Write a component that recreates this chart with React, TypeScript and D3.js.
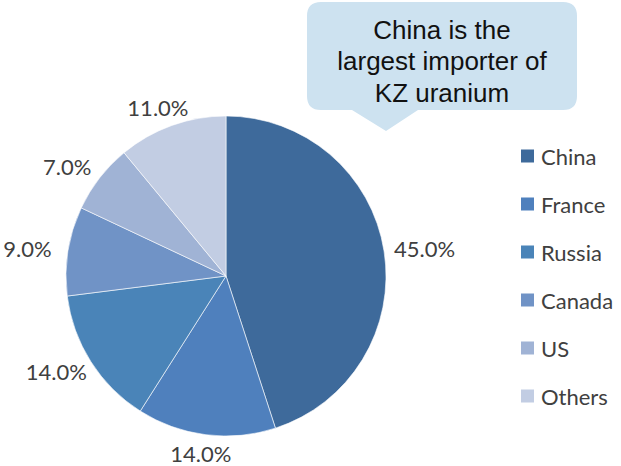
import React from "react";
import * as d3 from "d3";

const categories = ["China", "France", "Russia", "Canada", "US", "Others"];
const shares = [45, 14, 14, 9, 7, 11];
const colors = ["#3e6a9b", "#4f80bd", "#4a84b8", "#7093c6", "#a0b3d5", "#c2cde3"];
const calloutLines = ["China is the", "largest importer of", "KZ uranium"];

const W = 621;
const H = 466;
const cx = 226;
const cy = 276;
const R = 160;
const labelFont = "Lato, 'Open Sans', sans-serif";

export default function App() {
  const pie = d3.pie<number>().value((d) => d).sort(null);
  const arcs = pie(shares);
  const arc = d3.arc<d3.PieArcDatum<number>>().innerRadius(0).outerRadius(R);
  const fmt = d3.format(".1f");

  const legendY = d3.scalePoint<string>().domain(categories).range([156, 396]);

  return (
    <svg width={W} height={H} style={{ position: "absolute", left: 0, top: 0 }}>
      <g transform={`translate(${cx},${cy})`}>
        {arcs.map((a, i) => (
          <path key={i} d={arc(a) || ""} fill={colors[i]} stroke="#ffffff" strokeWidth={0.6} />
        ))}
        {arcs.map((a, i) => {
          const mid = (a.startAngle + a.endAngle) / 2;
          const dx = Math.sin(mid);
          const dy = -Math.cos(mid);
          const rr = R + 9;
          const bw = 64;
          const bh = 20;
          const x = dx * rr + dx * bw / 2;
          const y = dy * rr + dy * bh / 2;
          return (
            <text
              key={"l" + i}
              x={x}
              y={y}
              textAnchor="middle"
              dominantBaseline="central"
              fontFamily={labelFont}
              fontSize={22}
              fill="#404040"
            >
              {fmt(shares[i])}%
            </text>
          );
        })}
      </g>
      <g>
        <path
          d="M321,2 H563 Q577,2 577,16 V96 Q577,110 563,110 H418 L386,131 L352,110 H321 Q307,110 307,96 V16 Q307,2 321,2 Z"
          fill="#cde2f0"
        />
        {calloutLines.map((t, i) => (
          <text
            key={i}
            x={442}
            y={29.5 + i * 31.5}
            textAnchor="middle"
            dominantBaseline="central"
            fontFamily="'Liberation Sans', Arial, sans-serif"
            fontSize={26}
            fill="#111"
          >
            {t}
          </text>
        ))}
      </g>
      <g>
        {categories.map((c, i) => (
          <g key={c} transform={`translate(521,${legendY(c)})`}>
            <rect x={0} y={-6.5} width={13} height={13} fill={colors[i]} />
            <text x={20} y={0} dominantBaseline="central" fontFamily={labelFont} fontSize={22} fill="#404040">
              {c}
            </text>
          </g>
        ))}
      </g>
    </svg>
  );
}
